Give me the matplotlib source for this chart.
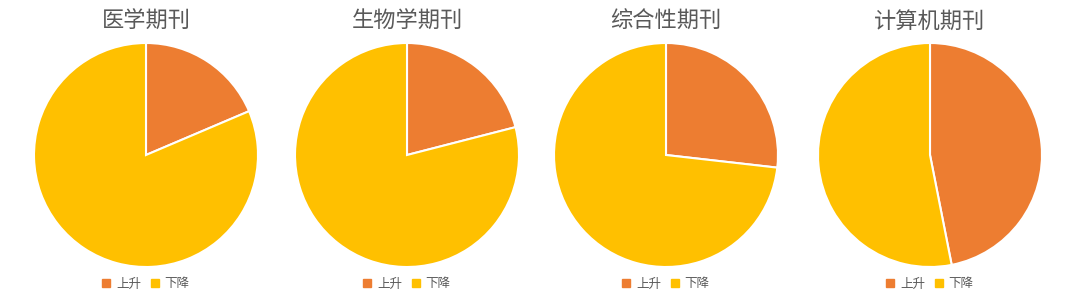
import matplotlib.pyplot as plt

plt.rcParams['font.family'] = ['Noto Sans CJK SC', 'DejaVu Sans']

TITLES = ['医学期刊', '生物学期刊', '综合性期刊', '计算机期刊']
LABELS = ['上升', '下降']
RISE = [18.6, 21.0, 26.8, 46.9]
FALL = [81.4, 79.0, 73.2, 53.1]
COLORS = ['#ED7D31', '#FFC000']

CENTERS_X = [146, 407, 666, 930]
W, H = 1080, 307
D = 224


def main():
    fig = plt.figure(figsize=(W / 100, H / 100), dpi=100)
    for i in range(len(TITLES)):
        left = (CENTERS_X[i] - D / 2) / W
        ax = fig.add_axes([left, (H - 267) / H, D / W, D / H])
        ax.pie([RISE[i], FALL[i]], colors=COLORS, startangle=90, counterclock=False,
               wedgeprops={'edgecolor': 'white', 'linewidth': 1.5})
        ax.set_xlim(-1, 1)
        ax.set_ylim(-1, 1)
        ax.set_aspect('equal')
        fig.text(CENTERS_X[i] / W, 1 - 21 / H, TITLES[i], ha='center', va='center',
                 fontsize=16, color='#595959')
        handles = [plt.Rectangle((0, 0), 1, 1, color=c) for c in COLORS]
        fig.legend(handles, LABELS, loc='center', bbox_to_anchor=(CENTERS_X[i] / W, 1 - 284 / H),
                   ncol=2, frameon=False, fontsize=9, labelcolor='#595959',
                   handlelength=0.6, handleheight=0.6, handletextpad=0.5, columnspacing=0.8)
    fig.savefig('out.png', dpi=100)


if __name__ == '__main__':
    main()
